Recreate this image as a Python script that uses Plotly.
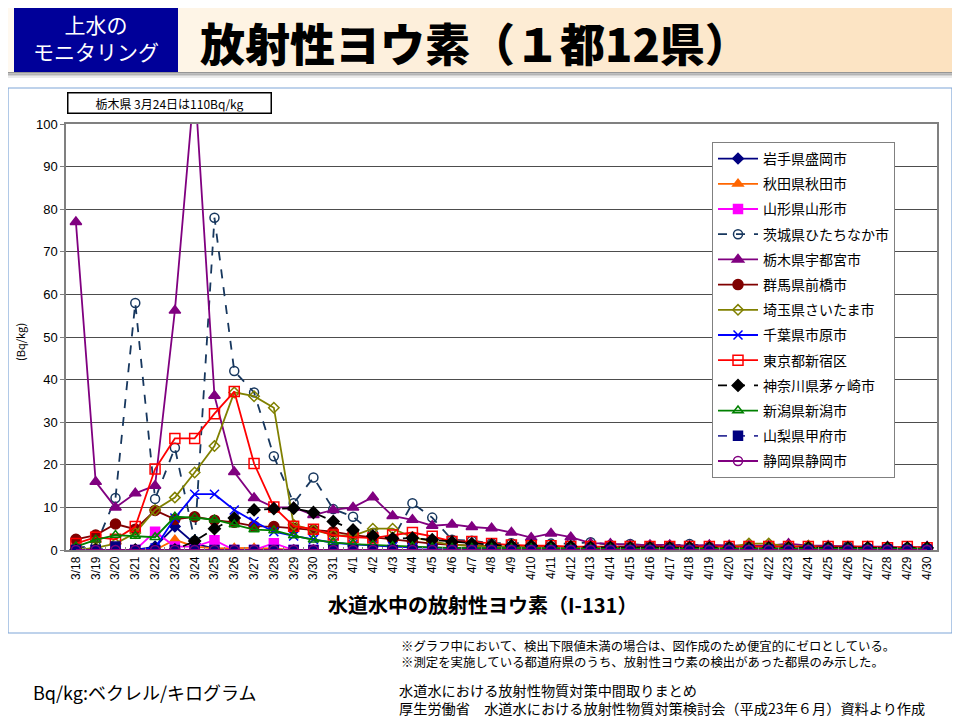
import plotly.graph_objects as go

# ---------------- data ----------------
dates = ["3/18", "3/19", "3/20", "3/21", "3/22", "3/23", "3/24", "3/25", "3/26", "3/27",
         "3/28", "3/29", "3/30", "3/31", "4/1", "4/2", "4/3", "4/4", "4/5", "4/6",
         "4/7", "4/8", "4/9", "4/10", "4/11", "4/12", "4/13", "4/14", "4/15", "4/16",
         "4/17", "4/18", "4/19", "4/20", "4/21", "4/22", "4/23", "4/24", "4/25", "4/26",
         "4/27", "4/28", "4/29", "4/30"]

iwate = [0, 0, 0, 0, 0.8, 5.5, 1.5, 0.3, 0, 0, 0, 0, 0, 0,
         0, 0, 0, 0, 0, 0, 0, 0, 0, 0, 0, 0, 0, 0, 0, 0,
         0, 0, 0, 0, 0, 0, 0, 0, 0, 0, 0, 0, 0, 0]
akita = [0, 0, 0, 0, 0, 2.4, 0.8, 0.4, 0.5, 0.5, 0.3, 0, 0, 0,
         0, 0, 0, 0, 0, 0, 0, 0, 0, 0, 0, 0, 0, 0, 0, 0,
         0, 0, 0, 0, 0, 0, 0, 0, 0, 0, 0, 0, 0, 0]
yamagata = [0, 0, 0, 0, 4.3, 0.8, 0.8, 2.3, 0, 0, 1.6, 0, 0, 0,
            0, 0, 0, 0, 0, 0, 0, 0, 0, 0, 0, 0, 0, 0, 0, 0,
            0, 0, 0, 0, 0, 0, 0, 0, 0, 0, 0, 0, 0, 0]
ibaraki = [0.5, 1, 12.2, 58, 12, 24, 2.2, 78, 42, 37, 22, 11, 17, 9.6,
           7.8, 4, 2.5, 11, 7.6, 2.4, 2.2, 1.6, 1.6, 1.6,
           1.5, 1.5, 1.8, 1.2, 1.4, 1.0, 1.0, 1.4, 0.8, 0.8,
           0.8, 0.8, 0.8, 0.7, 0.7, 0.9, 0.5, 0.5, 0.5, 0.5]
tochigi = [77, 16, 10, 13.3, 15.1, 56.2, 110, 36.2, 18.3, 12.2, 10, 10, 8.2, 9.4,
           10, 12.4, 8, 7.1, 5.7, 6, 5.4, 5.1, 4.1, 2.9,
           3.9, 3, 1.6, 1.5, 1.2, 1.2, 1.2, 1.0, 1.2, 1.1,
           1.0, 1.0, 1.5, 1.0, 1.0, 0.8, 0.8, 0.8, 0.5, 0.8]
gunma = [2.5, 3.5, 6.1, 4.9, 9.3, 7.2, 7.8, 7.0, 6.5, 5.6, 5.5, 5.1, 4.7, 4.3,
         3.5, 3.0, 2.5, 2.0, 1.5, 1.2, 1.0, 0.8, 0.7, 0.6,
         0.5, 0.5, 0.5, 0.5, 0.5, 0.5, 0.5, 0.5, 0.4, 0.4,
         0.4, 0.4, 0.4, 0.3, 0.3, 0.3, 0.3, 0.3, 0.3, 0.3]
saitama = [0, 0.5, 1.5, 4, 9.4, 12.3, 18.2, 24.4, 37, 36.1, 33.4, 5.9, 4.7, 3.5,
           3.3, 5, 5, 3, 2, 1.2, 1.0, 0.8, 0.8, 0.7,
           0.7, 0.7, 0.6, 0.6, 0.6, 0.6, 0.6, 0.6, 0.6, 0.6,
           1.5, 1.5, 0.8, 1.0, 0.5, 0.5, 0.5, 0.5, 0.5, 0.5]
chiba = [0, 0, 0, 0, 0.5, 7.5, 13.1, 13.1, 9.4, 6.7, 4.3, 3.3, 2.5, 1.7,
         1.3, 1.0, 0.8, 0.6, 0.5, 0.5, 0.4, 0.4, 0.3, 0.3,
         0.3, 0.3, 0.3, 0.3, 0.3, 0.3, 0.3, 0.3, 0.3, 0.3,
         0.3, 0.3, 0.3, 0.3, 0.3, 0.3, 0.3, 0.3, 0.3, 0.3]
tokyo = [1.5, 3.0, 2.5, 5.5, 19, 26.2, 26.2, 32, 37.2, 20.3, 10.1, 5.6, 4.9, 3.5,
         3.0, 2.8, 3.5, 4.1, 3.2, 2.0, 2.0, 1.5, 1.2, 1.0,
         1.0, 0.8, 0.8, 0.8, 0.8, 0.8, 0.8, 0.8, 0.8, 0.8,
         0.8, 0.8, 0.8, 0.8, 0.8, 0.8, 0.8, 0.5, 0.8, 0.5]
kanagawa = [0, 0, 0, 0, 0, 0, 2.1, 5.0, 7.5, 9.4, 9.7, 9.8, 8.8, 6.7,
            4.7, 3.3, 2.7, 2.8, 2.4, 1.9, 1.5, 1.2, 1.0, 1.0,
            0.8, 0.8, 0.6, 0.6, 0.5, 0.5, 0.5, 0.5, 0.5, 0.5,
            0.5, 0.5, 0.5, 0.5, 0.5, 0.5, 0.5, 0.5, 0.5, 0.5]
niigata = [0.8, 2.4, 3.5, 3.3, 3.0, 7.8, 7.6, 7.1, 6.0, 4.8, 4.6, 3.4, 2.4, 1.8,
           1.4, 1.2, 0.9, 0.8, 0.6, 0.5, 0.5, 0.5, 0.4, 0.4,
           0.4, 0.3, 0.3, 0.3, 0.3, 0.3, 0.3, 0.3, 0.3, 0.3,
           0.3, 0.3, 0.3, 0.3, 0.3, 0.3, 0.3, 0.3, 0.3, 0.3]
yamanashi = [0, 0, 0.8, 0, 0, 0, 0, 0, 0, 0, 0, 0, 0, 0,
             0, 0, 0, 0, 0, 0, 0, 0, 0, 0, 0, 0, 0, 0, 0, 0,
             0, 0, 0, 0, 0, 0, 0, 0, 0, 0, 0, 0, 0, 0]
shizuoka = [0, 0, 0, 0, 0, 0, 0, 0, 0, 0, 0, 0, 0, 0,
            0, 0, 0, 0, 0, 0, 0, 0, 0, 0, 0, 0, 0, 0, 0, 0,
            0, 0, 0, 0, 0, 0, 0, 0, 0, 0, 0, 0, 0, 0]

y_ticks = [0, 10, 20, 30, 40, 50, 60, 70, 80, 90, 100]

series = [
    ("岩手県盛岡市", iwate, "#000080", "solid", "diamond", "#000080", 8),
    ("秋田県秋田市", akita, "#FF6600", "solid", "triangle-up", "#FF6600", 9),
    ("山形県山形市", yamagata, "#FF00FF", "solid", "square", "#FF00FF", 9),
    ("茨城県ひたちなか市", ibaraki, "#17375E", "dash", "circle-open", "#17375E", 9),
    ("栃木県宇都宮市", tochigi, "#800080", "solid", "triangle-up", "#800080", 10),
    ("群馬県前橋市", gunma, "#800000", "solid", "circle", "#800000", 10),
    ("埼玉県さいたま市", saitama, "#808000", "solid", "diamond-open", "#808000", 8),
    ("千葉県市原市", chiba, "#0000FF", "solid", "x-thin-open", "#0000FF", 9),
    ("東京都新宿区", tokyo, "#FF0000", "solid", "square-open", "#FF0000", 10),
    ("神奈川県茅ヶ崎市", kanagawa, "#000000", "dash", "diamond", "#000000", 9),
    ("新潟県新潟市", niigata, "#008000", "solid", "triangle-up-open", "#008000", 9),
    ("山梨県甲府市", yamanashi, "#333399", "dash", "square", "#000080", 9),
    ("静岡県静岡市", shizuoka, "#800080", "solid", "circle-open", "#800080", 9),
]

JP = "Noto Sans CJK JP"
LAT = "Liberation Sans"

# page offset (body margin) and target plot area in screen pixels
OFF = 8
L, R, T, B = 66, 937, 124, 550
W, H = 960 - OFF, 720 - OFF


def px(x):
    return (x - L) / (R - L)


def py(y):
    return (B - y) / (B - T)


fig = go.Figure()
for i, (name, vals, col, dash, sym, mcol, size) in enumerate(series):
    fig.add_trace(go.Scatter(
        x=dates, y=vals, name=name, mode="lines+markers",
        line=dict(color=col, width=1.8, dash=dash),
        marker=dict(symbol=sym, size=size, color=mcol,
                    line=dict(color=mcol, width=1.5)),
        legendgroup=str(i), cliponaxis=True,
    ))

shapes = []
# header gradient strips
c0 = (255, 249, 240)
c1 = (252, 226, 192)
n = 24
for k in range(n):
    t = k / (n - 1)
    c = tuple(int(c0[j] + (c1[j] - c0[j]) * t) for j in range(3))
    shapes.append(dict(type="rect", xref="paper", yref="paper",
                       x0=px(k * 960 / n), x1=px((k + 1) * 960 / n + 1),
                       y0=py(0), y1=py(72), line=dict(width=0),
                       fillcolor="rgb(%d,%d,%d)" % c, layer="below"))
# header shadow
for k, g in enumerate([150, 180, 210, 235]):
    shapes.append(dict(type="rect", xref="paper", yref="paper",
                       x0=px(0), x1=px(960), y0=py(72 + k * 1.5), y1=py(73.5 + k * 1.5),
                       line=dict(width=0), fillcolor="rgb(%d,%d,%d)" % (g, g, g),
                       layer="below"))
# blue box
shapes.append(dict(type="rect", xref="paper", yref="paper",
                   x0=px(14), x1=px(178), y0=py(8), y1=py(72),
                   line=dict(width=0), fillcolor="#000099"))
# chart frame
shapes.append(dict(type="rect", xref="paper", yref="paper",
                   x0=px(8), x1=px(952), y0=py(88), y1=py(633),
                   line=dict(color="#7EA6D8", width=1.2), fillcolor="rgba(0,0,0,0)",
                   layer="below"))

annotations = [
    dict(text="上水の<br>モニタリング", x=px(96), y=py(38), xref="paper", yref="paper",
         showarrow=False, font=dict(family=JP, size=21, color="white"),
         align="center", xanchor="center", yanchor="middle"),
    dict(text="放射性ヨウ素（１都12県）", x=px(198), y=py(42), xref="paper",
         yref="paper", showarrow=False,
         font=dict(family=JP, size=45, color="black", weight=900),
         xanchor="left", yanchor="middle"),
    dict(text="栃木県 3月24日は110Bq/kg", x=px(169), y=py(103), xref="paper",
         yref="paper", showarrow=False, font=dict(family=JP, size=12, color="black"),
         xanchor="center", yanchor="middle", bordercolor="black", borderwidth=1.5,
         bgcolor="white", width=200, height=17, borderpad=1),
    dict(text="(Bq/kg)", x=px(20), y=py(342), xref="paper", yref="paper",
         showarrow=False, textangle=-90, font=dict(family=JP, size=11, color="black"),
         xanchor="center", yanchor="middle"),
    dict(text="<b>水道水中の放射性ヨウ素（I-131）</b>", x=px(482), y=py(604), xref="paper",
         yref="paper", showarrow=False, font=dict(family=JP, size=20, color="black"),
         xanchor="center", yanchor="middle"),
    dict(text="※グラフ中において、検出下限値未満の場合は、図作成のため便宜的にゼロとしている。"
              "<br>※測定を実施している都道府県のうち、放射性ヨウ素の検出があった都県のみ示した。",
         x=px(399), y=py(654), xref="paper", yref="paper", showarrow=False, align="left",
         font=dict(family=JP, size=12.4, color="black"), xanchor="left", yanchor="middle"),
    dict(text="Bq/kg:ベクレル/キログラム", x=px(31), y=py(692), xref="paper", yref="paper",
         showarrow=False, font=dict(family=JP, size=18, color="black"),
         xanchor="left", yanchor="middle"),
    dict(text="水道水における放射性物質対策中間取りまとめ"
              "<br>厚生労働省　水道水における放射性物質対策検討会（平成23年６月）資料より作成",
         x=px(397), y=py(699), xref="paper", yref="paper", showarrow=False, align="left",
         font=dict(family=JP, size=14.2, color="black"), xanchor="left", yanchor="middle"),
]

fig.update_layout(
    width=W, height=H,
    margin=dict(l=L - OFF, r=W - (R - OFF), t=T - OFF, b=H - (B - OFF), pad=0),
    paper_bgcolor="white", plot_bgcolor="white",
    shapes=shapes, annotations=annotations,
    showlegend=True,
    legend=dict(x=px(712), y=py(142), xanchor="left", yanchor="top",
                bgcolor="white", bordercolor="#808080", borderwidth=1,
                font=dict(family=JP, size=14, color="black"),
                tracegroupgap=4, itemwidth=40),
    xaxis=dict(type="category", categoryorder="array", categoryarray=dates,
               range=[-0.5, len(dates) - 0.5],
               tickangle=-90, tickfont=dict(family=LAT, size=12, color="black"),
               showgrid=False, showline=True, linecolor="#808080", linewidth=1.5,
               mirror=True, ticks="inside", ticklen=3, tickcolor="#808080",
               tickson="boundaries", zeroline=False),
    yaxis=dict(range=[0, 100], tickvals=y_ticks,
               tickfont=dict(family=LAT, size=13, color="black"),
               showgrid=True, gridcolor="#4D4D4D", gridwidth=1.2,
               showline=True, linecolor="#808080", linewidth=1.5, mirror=True,
               ticks="outside", ticklen=4, tickcolor="#808080", zeroline=False),
)

fig.write_html("out.html")
